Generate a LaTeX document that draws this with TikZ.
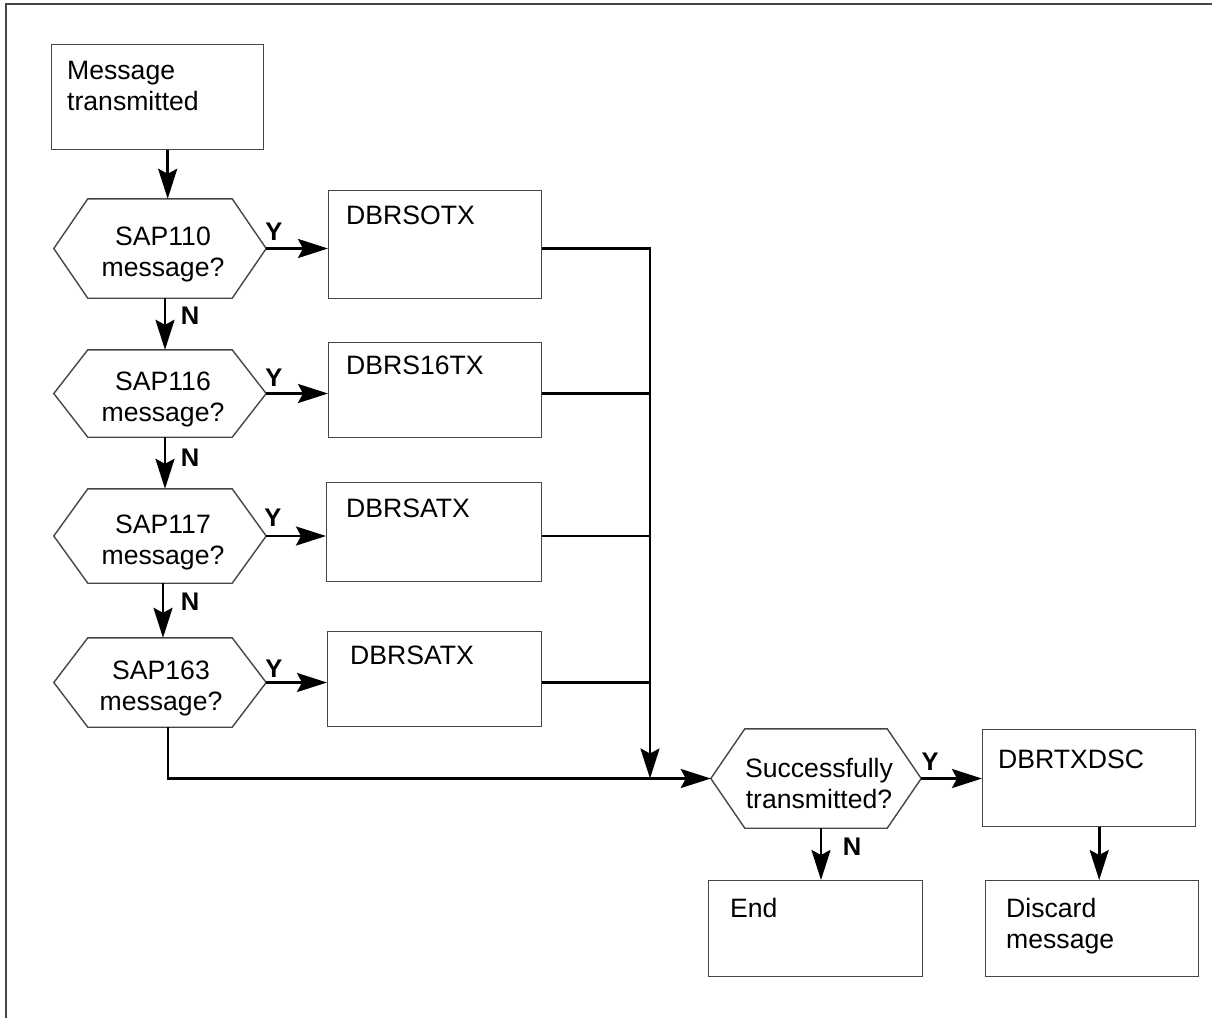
\documentclass[tikz,border=0pt]{standalone}
\usepackage{fontspec}
\setmainfont{Liberation Sans}
\usetikzlibrary{arrows.meta}
\definecolor{boxline}{RGB}{70,70,70}
\begin{document}
\begin{tikzpicture}[x=1pt,y=-1pt,
  every node/.style={font=\fontsize{26.6}{31}\selectfont},
  box/.style={draw=boxline, line width=1.4pt, anchor=north west, inner sep=0pt},
  txt/.style={anchor=base west, align=left, inner sep=0pt},
  htxt/.style={align=center, inner sep=0pt},
  lbl/.style={font=\fontsize{25.5}{28}\selectfont\bfseries, inner sep=0pt},
  hexa/.style={minimum height=#1, minimum width=212pt, inner sep=0pt,
    append after command={\pgfextra{\draw[draw=boxline, line width=1.4pt]
      (\tikzlastnode.west) -- ([xshift=34pt]\tikzlastnode.north west)
      -- ([xshift=-34pt]\tikzlastnode.north east) -- (\tikzlastnode.east)
      -- ([xshift=-34pt]\tikzlastnode.south east) -- ([xshift=34pt]\tikzlastnode.south west)
      -- cycle;}}},
  conn/.style={line width=2.6pt},
  arr/.style={line width=2.6pt, -{Stealth[length=30pt, width=19pt, inset=5pt]}},
  frame/.style={draw=boxline, line width=2pt}
]
\useasboundingbox (0,0) rectangle (1212,1018);
\draw[frame] (1212,4) -- (6,4) -- (6,1018);

% start
\node[box, minimum width=212pt, minimum height=105pt] (start) at (51,44) {};
\node[txt] (startT) at (67,110) {Message\\transmitted};

% decision chain
\node[hexa=99pt] (q1) at (160,248.5) {};
\node[htxt] (q1T) at ([xshift=3pt,yshift=-6pt]q1.center) {SAP110\\message?};
\node[hexa=87pt] (q2) at (160,393.5) {};
\node[htxt] (q2T) at ([xshift=3pt,yshift=-6pt]q2.center) {SAP116\\message?};
\node[hexa=94pt] (q3) at (160,536) {};
\node[htxt] (q3T) at ([xshift=3pt,yshift=-6pt]q3.center) {SAP117\\message?};
\node[hexa=89pt] (q4) at (160,682.5) {};
\node[htxt] (q4T) at ([xshift=1pt,yshift=-6pt]q4.center) {SAP163\\message?};

% handler boxes
\node[box, minimum width=213pt, minimum height=108pt] (b1) at (328,190) {};
\node[txt] (b1T) at (346,224) {DBRSOTX};
\node[box, minimum width=213pt, minimum height=95pt] (b2) at (328,342) {};
\node[txt] (b2T) at (346,374) {DBRS16TX};
\node[box, minimum width=215pt, minimum height=99pt] (b3) at (326,482) {};
\node[txt] (b3T) at (346,517) {DBRSATX};
\node[box, minimum width=214pt, minimum height=95pt] (b4) at (327,631) {};
\node[txt] (b4T) at (350,664) {DBRSATX};

% result
\node[hexa=99pt, minimum width=210pt] (q5) at (816,778.5) {};
\node[htxt] (q5T) at ([xshift=3pt,yshift=-5pt]q5.center) {Successfully\\transmitted?};
\node[box, minimum width=213pt, minimum height=97pt] (dsc) at (982,729) {};
\node[txt] (dscT) at (998,768) {DBRTXDSC};
\node[box, minimum width=214pt, minimum height=96pt] (endb) at (708,880) {};
\node[txt] (endT) at (730,917) {End};
\node[box, minimum width=213pt, minimum height=96pt] (disc) at (985,880) {};
\node[txt] (discT) at (1006,948) {Discard\\message};

\coordinate (j) at (650,778.5);

% connectors
\draw[arr] ([xshift=10pt]start.south) -- ([xshift=10pt]start.south |- q1.north);
\draw[arr] ([xshift=5pt]q1.south) -- ([xshift=5pt]q1.south |- q2.north);
\draw[arr] ([xshift=5pt]q2.south) -- ([xshift=5pt]q2.south |- q3.north);
\draw[arr] ([xshift=3pt]q3.south) -- ([xshift=3pt]q3.south |- q4.north);

\draw[arr] (q1.east) -- (q1.east -| b1.west);
\draw[arr] (q2.east) -- (q2.east -| b2.west);
\draw[arr] (q3.east) -- (q3.east -| b3.west);
\draw[arr] (q4.east) -- (q4.east -| b4.west);

\draw[arr] (b1.east |- q1.east) -| (j);
\draw[conn] (b2.east |- q2.east) -- (q2.east -| j);
\draw[conn] (b3.east |- q3.east) -- (q3.east -| j);
\draw[conn] (b4.east |- q4.east) -- (q4.east -| j);

\draw[arr] ([xshift=8pt]q4.south) |- (q5.west);
\draw[arr] (q5.east) -- (q5.east -| dsc.west);
\draw[arr] ([xshift=5pt]q5.south) -- ([xshift=5pt]q5.south |- endb.north);
\draw[arr] ([xshift=10pt]dsc.south) -- ([xshift=10pt]dsc.south |- disc.north);

% branch labels
\node[lbl] (y1) at (274,232) {Y};
\node[lbl] (y2) at (274,378) {Y};
\node[lbl] (y3) at (273,518) {Y};
\node[lbl] (y4) at (274,669) {Y};
\node[lbl] (y5) at (930,762) {Y};
\node[lbl] (n1) at (190,316) {N};
\node[lbl] (n2) at (190,458) {N};
\node[lbl] (n3) at (190,602) {N};
\node[lbl] (n5) at (852,847) {N};
\end{tikzpicture}
\end{document}
